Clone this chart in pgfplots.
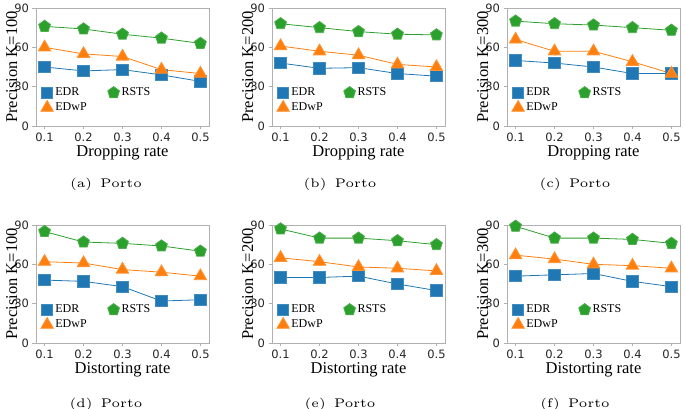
\documentclass[border=0pt]{standalone}
\usepackage{pgfplots}
\pgfplotsset{compat=1.18}
\usetikzlibrary{plotmarks}
\usepackage{fontspec}
\newfontfamily\tnr{Liberation Serif}
\newfontfamily\djv{DejaVu Sans}
\newfontfamily\capfont{lmroman5-regular.otf}
\definecolor{cB}{HTML}{1F77B4}
\definecolor{cO}{HTML}{FF7F0E}
\definecolor{cG}{HTML}{2CA02C}
\definecolor{frameg}{HTML}{B0B0B0}

\pgfplotsset{
  panel/.style={
    scale only axis, width=173pt, height=118pt,
    xmin=0.078, xmax=0.522, ymin=0, ymax=90,
    xtick={0.1,0.2,0.3,0.4,0.5}, xticklabels={0.1,0.2,0.3,0.4,0.5},
    ytick={0,30,60,90},
    axis line style={frameg, line width=0.6pt},
    tick style={frameg, line width=0.6pt},
    tick align=outside, tickpos=left, major tick length=3.5pt,
    /pgf/number format/assume math mode=true,
    ticklabel style={font=\djv\fontsize{11.5}{12}\selectfont, text=black!85},
    label style={font=\tnr\fontsize{16.5}{18}\selectfont},
    xlabel style={yshift=3pt},
    ylabel style={at={(axis description cs:-0.14,0.5)}, anchor=center, inner sep=0pt},
    legend columns=2,
    legend cell align=left,
    legend image post style={only marks},
    legend style={draw=none, fill=none, at={(0.01,0.08)}, anchor=south west,
      font=\tnr\fontsize{12}{13}\selectfont,
      /tikz/every even column/.append style={column sep=19pt},
      row sep=1pt},
  },
  edr/.style={color=cB, line width=0.8pt, mark=square*, mark size=5.7pt, mark options={fill=cB, draw=cB!85!white}},
  edwp/.style={color=cO, line width=0.8pt, mark=triangle*, mark size=7.2pt, mark options={fill=cO, draw=cO!85!white}},
  rsts/.style={color=cG, line width=0.8pt, mark=pentagon*, mark size=6.2pt, mark options={fill=cG, draw=cG!85!white}},
}

\begin{document}
\begin{tikzpicture}
\useasboundingbox (0pt,0pt) rectangle (685pt,409pt);

% (a)
\begin{axis}[panel, at={(36pt,283pt)}, anchor=south west, xlabel={Dropping rate}, ylabel={Precision K=100}]
\addplot[edr] coordinates {(0.1,45)(0.2,42)(0.3,43)(0.4,39)(0.5,34)};
\addlegendentry{EDR}
\addplot[rsts] coordinates {(0.1,76)(0.2,74)(0.3,70)(0.4,67)(0.5,63)};
\addlegendentry{RSTS}
\addplot[edwp] coordinates {(0.1,60)(0.2,55)(0.3,53)(0.4,43)(0.5,40)};
\addlegendentry{EDwP}
\end{axis}

% (b)
\begin{axis}[panel, at={(272pt,283pt)}, anchor=south west, xlabel={Dropping rate}, ylabel={Precision K=200}]
\addplot[edr] coordinates {(0.1,48)(0.2,44)(0.3,44.5)(0.4,40)(0.5,38)};
\addlegendentry{EDR}
\addplot[rsts] coordinates {(0.1,78)(0.2,75)(0.3,72)(0.4,70)(0.5,69.5)};
\addlegendentry{RSTS}
\addplot[edwp] coordinates {(0.1,61)(0.2,57)(0.3,54)(0.4,47)(0.5,45)};
\addlegendentry{EDwP}
\end{axis}

% (c)
\begin{axis}[panel, at={(507pt,283pt)}, anchor=south west, xlabel={Dropping rate}, ylabel={Precision K=300}]
\addplot[edr] coordinates {(0.1,50)(0.2,48)(0.3,45)(0.4,40)(0.5,40)};
\addlegendentry{EDR}
\addplot[rsts] coordinates {(0.1,80)(0.2,78)(0.3,77)(0.4,75)(0.5,73)};
\addlegendentry{RSTS}
\addplot[edwp] coordinates {(0.1,66)(0.2,57)(0.3,57)(0.4,49)(0.5,40)};
\addlegendentry{EDwP}
\end{axis}

% (d)
\begin{axis}[panel, at={(36pt,66pt)}, anchor=south west, xlabel={Distorting rate}, ylabel={Precision K=100}]
\addplot[edr] coordinates {(0.1,48)(0.2,47)(0.3,43)(0.4,32)(0.5,33)};
\addlegendentry{EDR}
\addplot[rsts] coordinates {(0.1,85)(0.2,77)(0.3,76)(0.4,74)(0.5,70)};
\addlegendentry{RSTS}
\addplot[edwp] coordinates {(0.1,62)(0.2,61)(0.3,56)(0.4,54)(0.5,51)};
\addlegendentry{EDwP}
\end{axis}

% (e)
\begin{axis}[panel, at={(272pt,66pt)}, anchor=south west, xlabel={Distorting rate}, ylabel={Precision K=200}]
\addplot[edr] coordinates {(0.1,50)(0.2,50)(0.3,51)(0.4,45)(0.5,40)};
\addlegendentry{EDR}
\addplot[rsts] coordinates {(0.1,87)(0.2,80)(0.3,80)(0.4,78)(0.5,75)};
\addlegendentry{RSTS}
\addplot[edwp] coordinates {(0.1,65)(0.2,62)(0.3,58)(0.4,57)(0.5,55)};
\addlegendentry{EDwP}
\end{axis}

% (f)
\begin{axis}[panel, at={(507pt,66pt)}, anchor=south west, xlabel={Distorting rate}, ylabel={Precision K=300}]
\addplot[edr] coordinates {(0.1,51)(0.2,52)(0.3,53)(0.4,47)(0.5,43)};
\addlegendentry{EDR}
\addplot[rsts] coordinates {(0.1,89)(0.2,80)(0.3,80)(0.4,79)(0.5,76)};
\addlegendentry{RSTS}
\addplot[edwp] coordinates {(0.1,67)(0.2,64)(0.3,60)(0.4,59)(0.5,57)};
\addlegendentry{EDwP}
\end{axis}

\tikzset{subcap/.style={font=\capfont\fontsize{5}{6}\selectfont, scale=2.5, inner sep=0pt}}
\node[subcap] at (106pt,225pt) {(a)\hspace{0.66em}Porto};
\node[subcap] at (340pt,225pt) {(b)\hspace{0.66em}Porto};
\node[subcap] at (575pt,225pt) {(c)\hspace{0.66em}Porto};
\node[subcap] at (106pt,5pt) {(d)\hspace{0.66em}Porto};
\node[subcap] at (340pt,5pt) {(e)\hspace{0.66em}Porto};
\node[subcap] at (575pt,5pt) {(f)\hspace{0.66em}Porto};
\end{tikzpicture}
\end{document}
